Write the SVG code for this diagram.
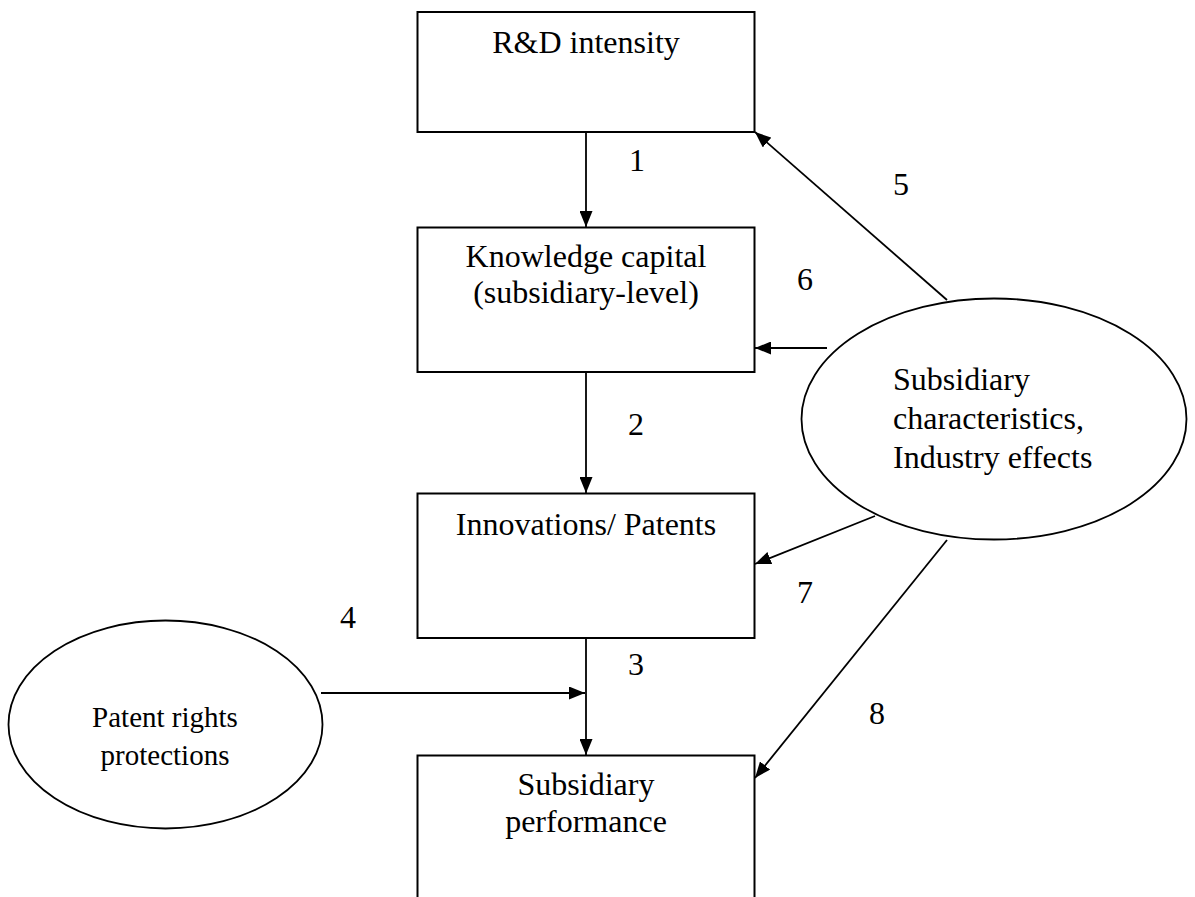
<svg xmlns="http://www.w3.org/2000/svg" width="1195" height="897" viewBox="0 0 1195 897">
<style>
.box{fill:#fff;stroke:#000;stroke-width:2}
.ell{fill:#fff;stroke:#000;stroke-width:1.8}
.t{font-family:"Liberation Serif","Times New Roman",serif;font-size:32px;fill:#000}
.ts{font-family:"Liberation Serif","Times New Roman",serif;font-size:29px;fill:#000}
.c{text-anchor:middle}
.ln{stroke:#000;stroke-width:1.8;fill:none;marker-end:url(#ah)}
.pl{stroke:#000;stroke-width:1.8;fill:none}
</style>
<defs>
<marker id="ah" markerUnits="userSpaceOnUse" markerWidth="17" markerHeight="13" refX="16" refY="6.5" orient="auto">
<path d="M0,0 L16,6.5 L0,13 z" fill="#000"/>
</marker>
</defs>
<rect width="1195" height="897" fill="#fff"/>
<g id="connectors">
<line class="ln" x1="586" y1="132" x2="586" y2="227"/>
<line class="ln" x1="586" y1="372" x2="586" y2="493"/>
<line class="ln" x1="586" y1="635" x2="586" y2="755"/>
<line class="ln" x1="321" y1="693" x2="585" y2="693"/>
<line class="ln" x1="947" y1="300" x2="755" y2="132"/>
<line class="ln" x1="827" y1="348" x2="755" y2="348"/>
<line class="ln" x1="875" y1="516" x2="755" y2="564"/>
<line class="ln" x1="947" y1="540" x2="755" y2="778"/>
<text class="t" x="637" y="171" text-anchor="middle">1</text>
<text class="t" x="636" y="435" text-anchor="middle">2</text>
<text class="t" x="636" y="675" text-anchor="middle">3</text>
<text class="t" x="348" y="628" text-anchor="middle">4</text>
<text class="t" x="901" y="195" text-anchor="middle">5</text>
<text class="t" x="805" y="290" text-anchor="middle">6</text>
<text class="t" x="805" y="603" text-anchor="middle">7</text>
<text class="t" x="877" y="724" text-anchor="middle">8</text>
</g>
<g id="rd">
<rect class="box" x="417.5" y="12" width="337" height="120"/>
<text class="t c" x="586" y="53">R&amp;D intensity</text>
</g>
<g id="knowledge">
<rect class="box" x="417.5" y="227.5" width="337" height="144.5"/>
<text class="t c" x="586" y="267">Knowledge capital</text>
<text class="t c" x="586" y="303">(subsidiary-level)</text>
</g>
<g id="innovations">
<rect class="box" x="417.5" y="493.5" width="337" height="144.5"/>
<text class="t c" x="586" y="535">Innovations/ Patents</text>
</g>
<g id="performance">
<rect class="box" x="417.5" y="755.5" width="337" height="160"/>
<text class="t c" x="586" y="795">Subsidiary</text>
<text class="t c" x="586" y="832">performance</text>
</g>
<g id="characteristics">
<ellipse class="ell" cx="994" cy="419" rx="192.5" ry="120.5"/>
<text class="t" x="893" y="390">Subsidiary</text>
<text class="t" x="893" y="429">characteristics,</text>
<text class="t" x="893" y="468">Industry effects</text>
</g>
<g id="patentrights">
<ellipse class="ell" cx="165.5" cy="724.5" rx="157" ry="104"/>
<text class="ts c" x="165" y="727">Patent rights</text>
<text class="ts c" x="165" y="765">protections</text>
</g>
</svg>
